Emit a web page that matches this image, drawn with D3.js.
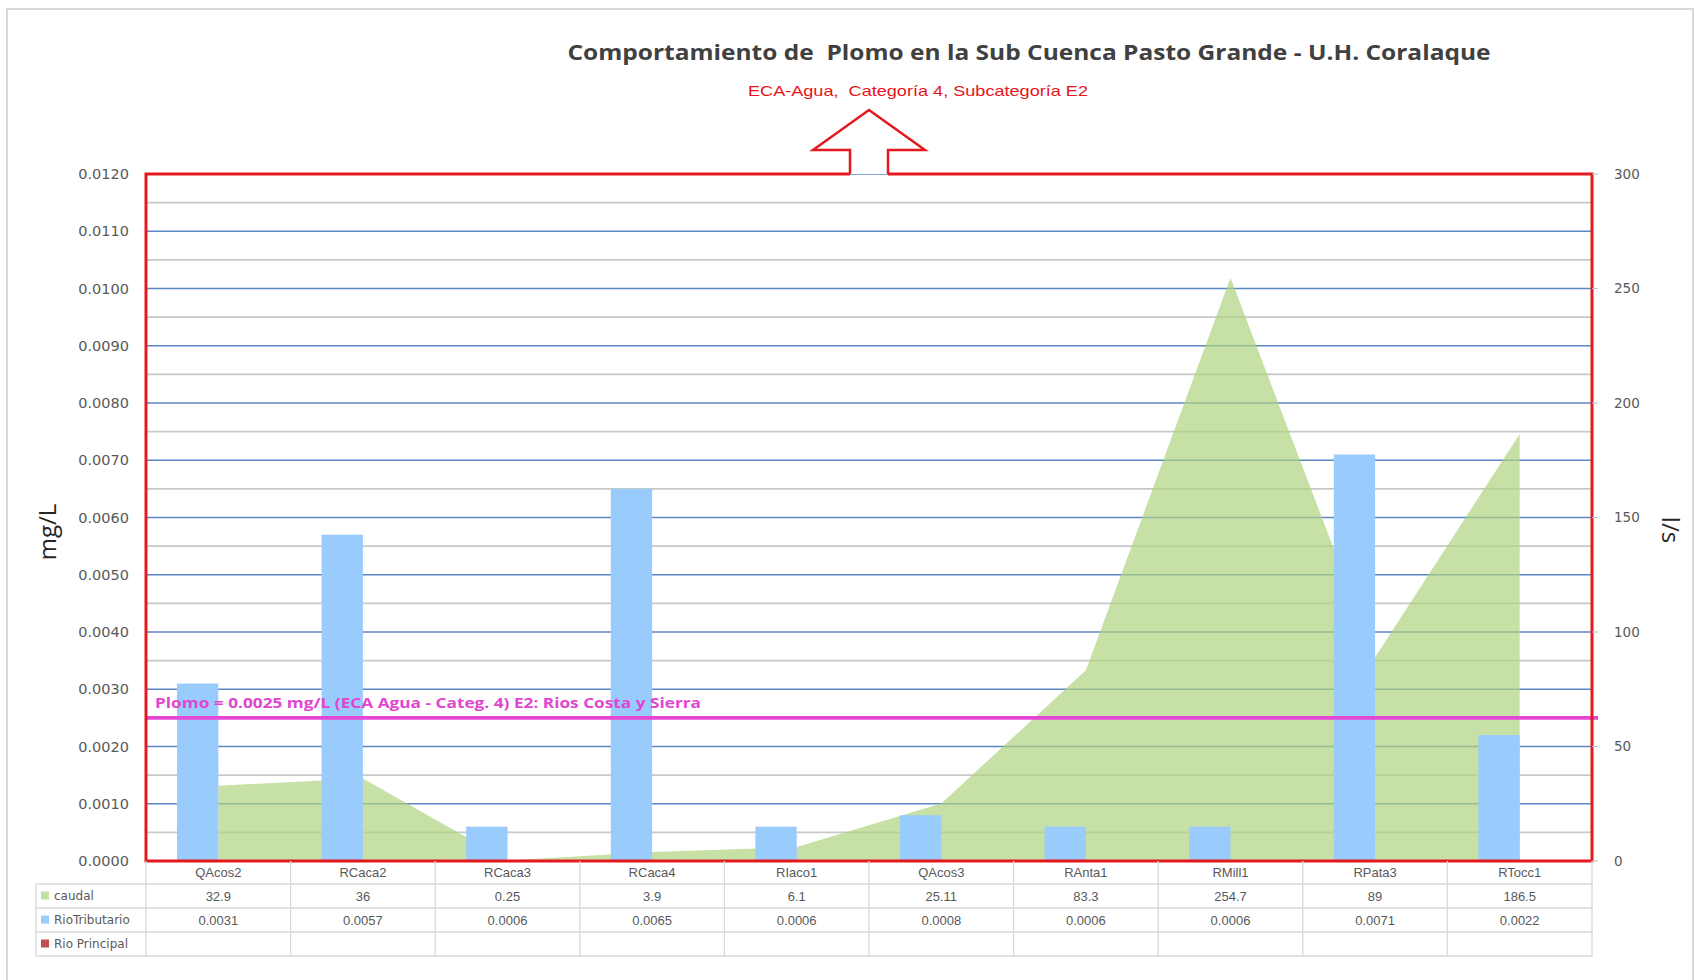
<!DOCTYPE html>
<html>
<head>
<meta charset="utf-8">
<script src="https://cdn.jsdelivr.net/npm/d3@7"></script>
<style>
  html, body { margin: 0; padding: 0; background: #fff; }
  svg { display: block; }
  text { white-space: pre; }
</style>
</head>
<body>
<svg id="chart" width="1695" height="980"></svg>
<script>
// Sampling stations along the sub-basin
const categories = ["QAcos2", "RCaca2", "RCaca3", "RCaca4", "RIaco1", "QAcos3", "RAnta1", "RMill1", "RPata3", "RTocc1"];
// Flow (l/s), right axis
const caudal = [32.9, 36, 0.25, 3.9, 6.1, 25.11, 83.3, 254.7, 89, 186.5];
// Lead concentration (mg/L), left axis
const rioTributario = [0.0031, 0.0057, 0.0006, 0.0065, 0.0006, 0.0008, 0.0006, 0.0006, 0.0071, 0.0022];
const rioPrincipal = [null, null, null, null, null, null, null, null, null, null];
const caudalLabels = ["32.9", "36", "0.25", "3.9", "6.1", "25.11", "83.3", "254.7", "89", "186.5"];
const tributarioLabels = ["0.0031", "0.0057", "0.0006", "0.0065", "0.0006", "0.0008", "0.0006", "0.0006", "0.0071", "0.0022"];
const leftTicks = [0, 0.001, 0.002, 0.003, 0.004, 0.005, 0.006, 0.007, 0.008, 0.009, 0.010, 0.011, 0.012];
const rightTicks = [0, 50, 100, 150, 200, 250, 300];
const ecaLimit = 0.0025;

const svg = d3.select("#chart");
const plot = { left: 146, right: 1592, top: 174, bottom: 861 };

const x = d3.scaleBand().domain(categories).range([plot.left, plot.right]).padding(0);
const bw = x.bandwidth();
const barW = bw / 3.5; // gap width 150%
const xs = d3.scaleBand().domain(["RioTributario", "Rio Principal"]).range([0, barW * 2]).padding(0);
const yL = d3.scaleLinear().domain([0, 0.012]).range([plot.bottom, plot.top]);
const yR = d3.scaleLinear().domain([0, 300]).range([plot.bottom, plot.top]);

// outer frame
svg.append("rect").attr("x", 7).attr("y", 9).attr("width", 1686).attr("height", 990)
  .attr("fill", "none").attr("stroke", "#dadada").attr("stroke-width", 2);

// gridlines: minor (grey) every 0.0005, major (blue) every 0.001
const minorTicks = d3.range(1, 24, 2).map(i => i * 0.0005);
svg.append("g").selectAll("line").data(minorTicks).join("line")
  .attr("x1", plot.left).attr("x2", plot.right)
  .attr("y1", d => yL(d)).attr("y2", d => yL(d))
  .attr("stroke", "#c8c8c8").attr("stroke-width", 1.6);
svg.append("g").selectAll("line").data(leftTicks.slice(1)).join("line")
  .attr("x1", plot.left).attr("x2", plot.right)
  .attr("y1", d => yL(d)).attr("y2", d => yL(d))
  .attr("stroke", "#5b87c2").attr("stroke-width", 1.4);

// flow area
const area = d3.area()
  .x((d, i) => x(categories[i]) + bw / 2)
  .y0(yR(0))
  .y1(d => yR(d));
svg.append("path").datum(caudal).attr("d", area)
  .attr("fill", "rgb(174,211,128)").attr("fill-opacity", 0.7);

// concentration bars
const barData = [];
categories.forEach((c, i) => {
  barData.push({ c, s: "RioTributario", v: rioTributario[i] });
  if (rioPrincipal[i] != null) barData.push({ c, s: "Rio Principal", v: rioPrincipal[i] });
});
svg.append("g").selectAll("rect").data(barData).join("rect")
  .attr("x", d => x(d.c) + (bw - barW * 2) / 2 + xs(d.s))
  .attr("width", xs.bandwidth())
  .attr("y", d => yL(d.v))
  .attr("height", d => yL(0) - yL(d.v))
  .attr("fill", d => d.s === "RioTributario" ? "#99cbfd" : "#c0504d");

// ECA limit line
svg.append("line")
  .attr("x1", plot.left).attr("x2", plot.right + 6)
  .attr("y1", yL(ecaLimit)).attr("y2", yL(ecaLimit))
  .attr("stroke", "#e646d6").attr("stroke-width", 3.6);
svg.append("text")
  .attr("x", 155).attr("y", yL(ecaLimit) - 10)
  .attr("font-family", "Open Sans, sans-serif").attr("font-weight", "bold")
  .attr("font-size", 14.5).attr("fill", "#e046d0")
  .attr("textLength", 546).attr("lengthAdjust", "spacingAndGlyphs")
  .text("Plomo = 0.0025 mg/L (ECA Agua - Categ. 4) E2: Rios Costa y Sierra");

// red plot border, open where the arrow shaft meets it
const shaftL = 850, shaftR = 888;
const border = d3.path();
border.moveTo(shaftL, plot.top);
border.lineTo(plot.left, plot.top);
border.lineTo(plot.left, plot.bottom);
border.lineTo(plot.right, plot.bottom);
border.lineTo(plot.right, plot.top);
border.lineTo(shaftR, plot.top);
svg.append("path").attr("d", border.toString())
  .attr("fill", "none").attr("stroke", "#e3191e").attr("stroke-width", 3);

// arrow pointing to the ECA caption
const arrow = d3.path();
arrow.moveTo(shaftL, plot.top);
arrow.lineTo(shaftL, 150);
arrow.lineTo(813, 150);
arrow.lineTo(869, 110);
arrow.lineTo(925, 150);
arrow.lineTo(shaftR, 150);
arrow.lineTo(shaftR, plot.top);
svg.append("path").attr("d", arrow.toString())
  .attr("fill", "#fff").attr("stroke", "#e3191e").attr("stroke-width", 2.5)
  .attr("stroke-linejoin", "miter");

// left axis labels
svg.append("g").selectAll("text").data(leftTicks).join("text")
  .attr("x", 129).attr("y", d => yL(d)).attr("dy", "0.35em")
  .attr("text-anchor", "end")
  .attr("font-family", "DejaVu Sans, sans-serif").attr("font-size", 14.5)
  .attr("fill", "#595959")
  .text(d => d.toFixed(4));

// right axis ticks and labels
svg.append("g").selectAll("line").data(rightTicks).join("line")
  .attr("x1", plot.right).attr("x2", plot.right + 6)
  .attr("y1", d => yR(d)).attr("y2", d => yR(d))
  .attr("stroke", "#bfbfbf").attr("stroke-width", 1);
svg.append("g").selectAll("text").data(rightTicks).join("text")
  .attr("x", 1614).attr("y", d => yR(d)).attr("dy", "0.35em")
  .attr("font-family", "DejaVu Sans, sans-serif").attr("font-size", 13.5)
  .attr("fill", "#595959")
  .text(d => d);

// axis titles
svg.append("text")
  .attr("transform", "translate(56,532) rotate(-90)")
  .attr("text-anchor", "middle")
  .attr("font-family", "Open Sans, sans-serif").attr("font-size", 24)
  .attr("fill", "#262626").text("mg/L");
svg.append("text")
  .attr("transform", "translate(1662,530) rotate(90)")
  .attr("text-anchor", "middle")
  .attr("font-family", "Open Sans, sans-serif").attr("font-size", 24)
  .attr("fill", "#262626").text("l/s");

// titles
svg.append("text")
  .attr("x", 1029).attr("y", 60).attr("text-anchor", "middle")
  .attr("font-family", "Open Sans, sans-serif").attr("font-weight", "bold")
  .attr("font-size", 21).attr("fill", "#404040")
  .attr("textLength", 923).attr("lengthAdjust", "spacingAndGlyphs")
  .text("Comportamiento de  Plomo en la Sub Cuenca Pasto Grande - U.H. Coralaque");
svg.append("text")
  .attr("x", 918).attr("y", 96).attr("text-anchor", "middle")
  .attr("font-family", "Liberation Sans, Arial, sans-serif")
  .attr("font-size", 15).attr("fill", "#e8141b")
  .attr("textLength", 340).attr("lengthAdjust", "spacingAndGlyphs")
  .text("ECA-Agua,  Categoría 4, Subcategoría E2");

// data table
const tbl = { left: 36, catTop: plot.bottom, rowTop: 884, rowH: 24 };
const rows = [
  { name: "caudal", color: "#c4e0a4", labels: caudalLabels },
  { name: "RioTributario", color: "#99cbfd", labels: tributarioLabels },
  { name: "Rio Principal", color: "#c0504d", labels: categories.map(() => "") }
];
const tblBottom = tbl.rowTop + rows.length * tbl.rowH;
const tg = svg.append("g");
const gridColor = "#d9d9d9";
// horizontal rules
[tbl.rowTop, ...rows.map((r, i) => tbl.rowTop + (i + 1) * tbl.rowH)].forEach(yy => {
  tg.append("line").attr("x1", tbl.left).attr("x2", plot.right + 1)
    .attr("y1", yy).attr("y2", yy).attr("stroke", gridColor).attr("stroke-width", 1.3);
});
// vertical rules
tg.append("line").attr("x1", tbl.left).attr("x2", tbl.left)
  .attr("y1", tbl.rowTop).attr("y2", tblBottom).attr("stroke", gridColor).attr("stroke-width", 1.3);
[...categories.map(c => x(c)), plot.right].forEach(xx => {
  tg.append("line").attr("x1", xx).attr("x2", xx)
    .attr("y1", plot.bottom).attr("y2", tblBottom).attr("stroke", gridColor).attr("stroke-width", 1.3);
});
// category labels
tg.selectAll("text.cat").data(categories).join("text").attr("class", "cat")
  .attr("x", d => x(d) + bw / 2).attr("y", (plot.bottom + tbl.rowTop) / 2).attr("dy", "0.35em")
  .attr("text-anchor", "middle")
  .attr("font-family", "Liberation Sans, Arial, sans-serif").attr("font-size", 13)
  .attr("fill", "#595959").text(d => d);
rows.forEach((r, ri) => {
  const cy = tbl.rowTop + ri * tbl.rowH + tbl.rowH / 2;
  tg.append("rect").attr("x", 41).attr("y", cy - 4.5).attr("width", 8).attr("height", 8)
    .attr("fill", r.color);
  tg.append("text").attr("x", 54).attr("y", cy).attr("dy", "0.35em")
    .attr("font-family", "DejaVu Sans, sans-serif").attr("font-size", 12)
    .attr("fill", "#595959").text(r.name);
  tg.selectAll("text.v" + ri).data(r.labels).join("text").attr("class", "v" + ri)
    .attr("x", (d, i) => x(categories[i]) + bw / 2).attr("y", cy).attr("dy", "0.35em")
    .attr("text-anchor", "middle")
    .attr("font-family", "Liberation Sans, Arial, sans-serif").attr("font-size", 13)
    .attr("fill", "#595959").text(d => d);
});
</script>
</body>
</html>
